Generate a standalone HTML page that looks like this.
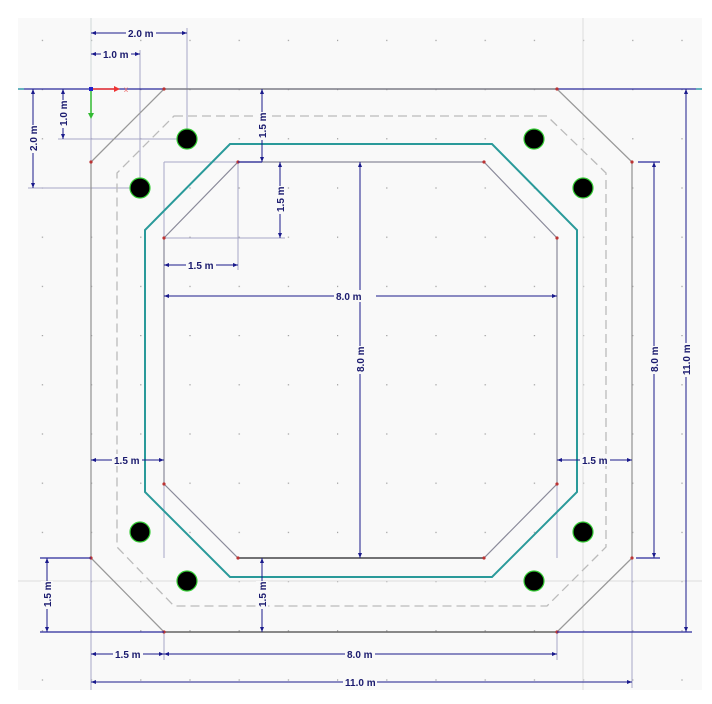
<!DOCTYPE html>
<html><head><style>
html,body{margin:0;padding:0;background:#fff;}
svg{display:block;}
text{font-family:"Liberation Sans",sans-serif;font-size:10px;font-weight:bold;fill:#1a1a6e;}
</style></head><body>
<svg width="712" height="704" viewBox="0 0 712 704" xmlns="http://www.w3.org/2000/svg">
<defs>
<pattern id="dots" x="91" y="89" width="49.2" height="49.2" patternUnits="userSpaceOnUse">
<rect x="0" y="0" width="1.2" height="1.2" fill="#999"/>
</pattern>
<marker id="a" viewBox="0 0 10 10" refX="10" refY="5" markerWidth="7" markerHeight="5" orient="auto-start-reverse" markerUnits="userSpaceOnUse"><path d="M0,1 L10,5 L0,9 z" fill="#1a1a8c"/></marker>
</defs>
<rect x="18" y="18" width="684" height="672" fill="#f9f9f9"/>
<rect x="18" y="18" width="684" height="672" fill="url(#dots)"/>
<line x1="18" y1="581" x2="702" y2="581" stroke="#ddd"/>
<line x1="583" y1="18" x2="583" y2="690" stroke="#ddd"/>
<line x1="91" y1="18" x2="91" y2="89" stroke="#cfd8d8"/>
<g stroke="#a8a8c8" stroke-width="1" fill="none">
<line x1="91" y1="89" x2="91" y2="690"/>
<line x1="164" y1="632" x2="164" y2="660"/>
<line x1="557" y1="632" x2="557" y2="660"/>
<line x1="632" y1="162" x2="632" y2="688"/>
<line x1="187" y1="28" x2="187" y2="139"/>
<line x1="140" y1="50" x2="140" y2="188"/>
<line x1="58" y1="139" x2="187" y2="139"/>
<line x1="28" y1="188" x2="140" y2="188"/>
<line x1="164" y1="238" x2="285" y2="238"/>
<line x1="238" y1="162" x2="238" y2="270"/>
<line x1="164" y1="162" x2="164" y2="558"/>
<line x1="557" y1="238" x2="557" y2="558"/>
<line x1="164" y1="162" x2="484" y2="162"/>
<line x1="238" y1="558" x2="484" y2="558"/>
</g>
<line x1="18" y1="89" x2="702" y2="89" stroke="#2a2a9a" stroke-width="1.3"/>
<line x1="164" y1="89" x2="557" y2="89" stroke="#333" stroke-width="1.3"/>
<line x1="18" y1="89" x2="24" y2="89" stroke="#3aa" stroke-width="1.3"/>
<line x1="696" y1="89" x2="702" y2="89" stroke="#3aa" stroke-width="1.3"/>
<polygon points="164,89 557,89 632,162 632,558 557,632 164,632 91,558 91,162" fill="none" stroke="#999" stroke-width="1.3"/>
<line x1="164" y1="632" x2="557" y2="632" stroke="#555" stroke-width="1.3"/>
<polygon points="174,116 547,116 606,173 606,547 547,606 174,606 117,547 117,173" fill="none" stroke="#bbb" stroke-width="1.3" stroke-dasharray="9,5"/>
<polygon points="230,144 492,144 577,230 577,492 492,577 230,577 145,492 145,230" fill="none" stroke="#2a9a9a" stroke-width="2"/>
<polygon points="238,162 484,162 557,238 557,484 484,558 238,558 164,484 164,238" fill="none" stroke="#8a8a9a" stroke-width="1.2"/>
<line x1="238" y1="558" x2="484" y2="558" stroke="#333" stroke-width="1.2"/>
<g fill="#b33">
<circle cx="164" cy="89" r="1.6"/><circle cx="557" cy="89" r="1.6"/><circle cx="632" cy="162" r="1.6"/><circle cx="632" cy="558" r="1.6"/><circle cx="557" cy="632" r="1.6"/><circle cx="164" cy="632" r="1.6"/><circle cx="91" cy="558" r="1.6"/><circle cx="91" cy="162" r="1.6"/>
<circle cx="238" cy="162" r="1.6"/><circle cx="484" cy="162" r="1.6"/><circle cx="557" cy="238" r="1.6"/><circle cx="557" cy="484" r="1.6"/><circle cx="484" cy="558" r="1.6"/><circle cx="238" cy="558" r="1.6"/><circle cx="164" cy="484" r="1.6"/><circle cx="164" cy="238" r="1.6"/>
</g>
<g fill="#000" stroke="#3c3" stroke-width="1.2">
<circle cx="187" cy="139" r="10"/><circle cx="140" cy="188" r="10"/><circle cx="534" cy="139" r="10"/><circle cx="583" cy="188" r="10"/>
<circle cx="140" cy="532" r="10"/><circle cx="187" cy="581" r="10"/><circle cx="534" cy="581" r="10"/><circle cx="583" cy="532" r="10"/>
</g>
<line x1="91" y1="89" x2="118" y2="89" stroke="#e33" stroke-width="1.5"/>
<path d="M114,86 L120,89 L114,92z" fill="#e33"/>
<text x="124" y="92" style="fill:#e66;font-size:8px;font-weight:normal">x</text>
<line x1="91" y1="89" x2="91" y2="117" stroke="#3b3" stroke-width="1.5"/>
<path d="M88,113 L91,119 L94,113z" fill="#3b3"/>
<rect x="89" y="87" width="4" height="4" fill="#22c"/>
<g stroke="#1a1a8c" stroke-width="1" marker-start="url(#a)" marker-end="url(#a)">
<line x1="91" y1="33" x2="187" y2="33"/>
<line x1="91" y1="54" x2="140" y2="54"/>
<line x1="63" y1="89" x2="63" y2="139"/>
<line x1="33" y1="89" x2="33" y2="188"/>
<line x1="262" y1="89" x2="262" y2="162"/>
<line x1="280" y1="162" x2="280" y2="238"/>
<line x1="164" y1="265" x2="238" y2="265"/>
<line x1="164" y1="296" x2="557" y2="296"/>
<line x1="360" y1="162" x2="360" y2="558"/>
<line x1="91" y1="460" x2="164" y2="460"/>
<line x1="557" y1="460" x2="632" y2="460"/>
<line x1="654" y1="162" x2="654" y2="558"/>
<line x1="686" y1="89" x2="686" y2="632"/>
<line x1="47" y1="558" x2="47" y2="632"/>
<line x1="262" y1="558" x2="262" y2="632"/>
<line x1="91" y1="654" x2="164" y2="654"/>
<line x1="164" y1="654" x2="557" y2="654"/>
<line x1="91" y1="682" x2="632" y2="682"/>
</g>
<g stroke="#2a2a9a" stroke-width="1.2">
<line x1="638" y1="162" x2="660" y2="162"/>
<line x1="636" y1="558" x2="660" y2="558"/>
<line x1="40" y1="558" x2="91" y2="558"/>
<line x1="40" y1="632" x2="164" y2="632"/>
<line x1="557" y1="632" x2="692" y2="632"/>
<line x1="262" y1="162" x2="238" y2="162"/>
</g>
<g>
<rect x="126" y="27" width="30" height="12" fill="#f9f9f9"/><text x="128" y="37">2.0 m</text>
<rect x="101" y="48" width="30" height="12" fill="#f9f9f9"/><text x="103" y="58">1.0 m</text>
<rect x="186" y="259" width="30" height="12" fill="#f9f9f9"/><text x="188" y="269">1.5 m</text>
<rect x="334" y="290" width="42" height="12" fill="#f9f9f9"/><text x="336" y="300">8.0 m</text>
<rect x="112" y="454" width="30" height="12" fill="#f9f9f9"/><text x="114" y="464">1.5 m</text>
<rect x="580" y="454" width="30" height="12" fill="#f9f9f9"/><text x="582" y="464">1.5 m</text>
<rect x="113" y="648" width="30" height="12" fill="#f9f9f9"/><text x="115" y="658">1.5 m</text>
<rect x="345" y="648" width="30" height="12" fill="#f9f9f9"/><text x="347" y="658">8.0 m</text>
<rect x="343" y="676" width="34" height="12" fill="#f9f9f9"/><text x="345" y="686">11.0 m</text>
</g>
<g>
<rect x="57" y="100" width="12" height="28" fill="#f9f9f9"/><text transform="translate(67,126) rotate(-90)">1.0 m</text>
<rect x="27" y="125" width="12" height="28" fill="#f9f9f9"/><text transform="translate(37,151) rotate(-90)">2.0 m</text>
<rect x="256" y="112" width="12" height="28" fill="#f9f9f9"/><text transform="translate(266,138) rotate(-90)">1.5 m</text>
<rect x="274" y="186" width="12" height="28" fill="#f9f9f9"/><text transform="translate(284,212) rotate(-90)">1.5 m</text>
<rect x="354" y="346" width="12" height="28" fill="#f9f9f9"/><text transform="translate(364,372) rotate(-90)">8.0 m</text>
<rect x="648" y="346" width="12" height="28" fill="#f9f9f9"/><text transform="translate(658,372) rotate(-90)">8.0 m</text>
<rect x="680" y="343" width="12" height="34" fill="#f9f9f9"/><text transform="translate(690,375) rotate(-90)">11.0 m</text>
<rect x="41" y="581" width="12" height="28" fill="#f9f9f9"/><text transform="translate(51,607) rotate(-90)">1.5 m</text>
<rect x="256" y="581" width="12" height="28" fill="#f9f9f9"/><text transform="translate(266,607) rotate(-90)">1.5 m</text>
</g>
</svg>
</body></html>
